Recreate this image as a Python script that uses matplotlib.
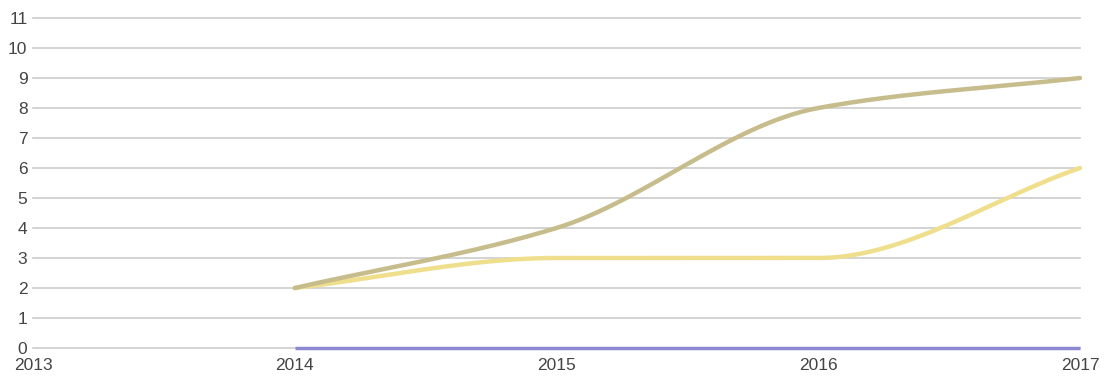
import numpy as np
import matplotlib
matplotlib.use("Agg")
from matplotlib import pyplot as plt

plt.rcParams['font.family'] = ['Liberation Sans', 'DejaVu Sans']

years = [2014, 2015, 2016, 2017]
tan_vals = [2, 4, 8, 9]
yellow_vals = [2, 3, 3, 6]
blue_vals = [0, 0, 0, 0]

x_ticks = [2013, 2014, 2015, 2016, 2017]
y_ticks = list(range(0, 12))


def pchip(x, y, n=200):
    # monotone cubic interpolation (Fritsch-Carlson), keeps flat runs flat
    x = np.asarray(x, float)
    y = np.asarray(y, float)
    h = np.diff(x)
    d = np.diff(y) / h
    m = np.zeros_like(y)
    for i in range(1, len(y) - 1):
        if d[i - 1] * d[i] > 0:
            w1 = 2 * h[i] + h[i - 1]
            w2 = h[i] + 2 * h[i - 1]
            m[i] = (w1 + w2) / (w1 / d[i - 1] + w2 / d[i])
    m[0] = d[0]
    m[-1] = d[-1]
    xs, ys = [], []
    for i in range(len(h)):
        t = np.linspace(0, 1, n)
        h00 = 2 * t**3 - 3 * t**2 + 1
        h10 = t**3 - 2 * t**2 + t
        h01 = -2 * t**3 + 3 * t**2
        h11 = t**3 - t**2
        xs.append(x[i] + t * h[i])
        ys.append(h00 * y[i] + h10 * h[i] * m[i] + h01 * y[i + 1] + h11 * h[i] * m[i + 1])
    return np.concatenate(xs), np.concatenate(ys)


fig = plt.figure(figsize=(11.08, 3.81), dpi=100)
ax = fig.add_axes([33 / 1108, 33 / 381, 1047 / 1108, 330 / 381])

ax.set_xlim(2013, 2017)
ax.set_ylim(0, 11)
ax.set_xticks(x_ticks)
ax.set_yticks(y_ticks)
ax.grid(axis='y', color='#cccccc', linewidth=1.2)
for gl in ax.get_ygridlines():
    gl.set_clip_on(False)
ax.set_axisbelow(True)
for s in ax.spines.values():
    s.set_visible(False)
ax.tick_params(length=0, labelsize=12.5, colors='#444444')
ax.tick_params(axis='y', pad=4)
ax.tick_params(axis='x', pad=7)

bx, by = pchip(years, blue_vals)
ax.plot(bx, by, color='#8c88d2', linewidth=2.5, solid_capstyle='butt', clip_on=False)
yx, yy = pchip(years, yellow_vals)
ax.plot(yx, yy, color='#efdf8c', linewidth=3.2, solid_capstyle='round', clip_on=False)
tx, ty = pchip(years, tan_vals)
ax.plot(tx, ty, color='#c6bc8c', linewidth=3.2, solid_capstyle='round', clip_on=False)

fig.savefig('out.png', dpi=100)
